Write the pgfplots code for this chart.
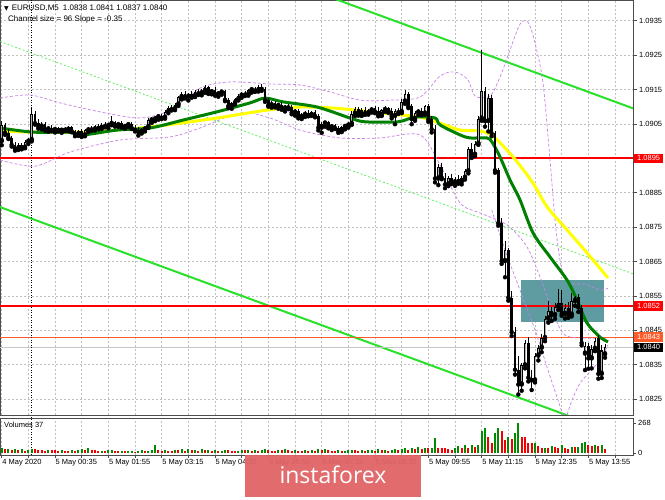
\documentclass[border=0pt]{standalone}
\usepackage{pgfplots}
\pgfplotsset{compat=1.18}
\usepackage{pgfplotstable}
\usepackage{fontspec}
\setmainfont{Liberation Sans}
\newfontfamily\dejavu{DejaVu Sans}
\newfontfamily\wmfont{Open Sans}
\definecolor{gridc}{RGB}{192,192,192}
\definecolor{maG}{RGB}{0,128,0}
\definecolor{maY}{RGB}{255,255,0}
\definecolor{chan}{RGB}{40,225,40}
\definecolor{chanmid}{RGB}{100,240,100}
\definecolor{band}{RGB}{200,130,230}
\definecolor{boxc}{RGB}{94,156,162}
\definecolor{volG}{RGB}{0,140,0}
\definecolor{volR}{RGB}{240,0,0}
\definecolor{ored}{RGB}{255,90,40}
\definecolor{wm}{RGB}{224,100,102}
\definecolor{bullc}{RGB}{175,175,175}
\newcommand{\sz}{\fontsize{7.5}{9}\selectfont}

\pgfplotstableread{
i o h l c
0 100.0 105.8 98.8 104.8
5 97.8 99.3 97.4 98.9
7 98.1 100.2 97.9 99.8
8 99.8 100.9 99.2 100.3
9 100.3 109.5 99.9 107.8
12 104.2 105.6 103.4 105.1
14 103.4 104.3 102.7 103.9
16 103.2 104.0 102.5 103.7
18 103.0 103.9 102.4 103.5
20 103.3 104.4 102.9 104.0
23 101.9 103.2 101.5 102.8
25 101.7 103.5 101.4 103.1
26 103.1 104.0 102.6 103.8
28 103.4 104.7 103.1 104.3
30 103.8 105.2 103.5 104.8
32 104.4 105.3 103.7 105.0
33 105.0 107.3 104.6 105.4
35 104.6 105.6 104.1 105.2
37 104.1 105.0 103.6 104.6
38 104.6 105.4 104.2 104.9
42 102.6 103.8 102.2 103.4
43 103.4 104.5 102.8 104.1
44 104.1 106.6 103.8 106.0
45 106.0 106.9 105.3 106.3
46 106.3 107.4 105.8 106.9
47 106.9 107.8 106.2 107.2
49 106.8 108.9 106.5 108.5
50 108.5 110.2 108.1 109.7
52 109.3 111.0 109.0 110.6
53 110.6 113.2 110.2 112.8
54 112.8 114.3 112.1 113.6
56 112.9 114.0 111.8 113.7
58 113.1 114.8 112.8 114.4
60 113.9 115.0 113.3 114.6
61 114.6 116.3 114.0 115.6
63 114.2 115.1 113.6 114.8
65 113.6 114.6 112.9 114.1
66 114.1 114.9 113.5 114.5
69 110.2 111.4 109.4 111.0
70 111.0 112.4 110.6 112.1
71 112.1 113.6 111.8 113.2
72 113.2 114.4 112.6 113.9
74 113.5 115.2 113.2 114.8
75 114.8 115.5 114.1 115.1
77 114.7 116.2 114.4 115.8
81 110.4 111.6 109.7 111.1
83 110.2 111.2 109.4 110.6
85 109.5 110.5 108.6 110.1
88 108.3 109.3 107.4 108.8
90 107.0 108.1 106.4 107.6
91 107.6 108.6 107.0 108.2
93 107.6 108.7 107.3 108.4
96 103.9 105.6 102.4 105.1
97 105.1 105.8 104.2 105.4
99 104.0 105.0 103.2 104.6
102 102.9 104.4 102.6 104.1
103 104.1 104.8 103.4 104.5
104 104.5 105.4 103.9 105.0
105 105.0 108.6 104.7 108.0
106 108.0 109.8 107.3 109.2
108 107.8 109.6 107.3 109.1
110 108.1 109.3 107.7 108.9
111 108.9 110.0 108.3 109.5
114 107.6 109.4 107.3 109.0
115 109.0 110.1 108.5 109.6
118 107.3 109.4 104.9 108.8
120 108.4 112.2 108.1 111.5
121 111.5 114.8 110.8 113.8
124 106.4 108.8 105.9 108.3
125 108.3 109.4 107.6 108.8
127 108.0 110.6 107.7 110.1
131 89.1 93.4 87.2 92.6
134 87.4 89.9 86.9 89.4
136 88.0 89.6 87.0 89.1
138 88.2 89.8 87.4 89.3
139 89.3 91.8 88.8 91.2
140 91.2 98.2 90.6 97.6
142 96.0 99.9 95.6 99.2
143 99.2 107.4 98.9 106.5
144 106.5 126.6 105.9 114.5
146 105.8 113.8 102.8 112.6
151 65.1 71.0 60.4 68.2
156 29.2 35.6 27.4 34.8
157 34.8 42.2 33.9 41.3
160 30.4 38.4 29.8 37.6
161 37.6 40.8 36.2 39.9
162 39.9 43.8 38.6 42.7
163 42.7 49.2 41.8 48.4
164 48.4 53.4 47.2 50.6
166 49.4 52.8 48.3 51.8
167 51.8 57.0 50.9 52.9
169 49.8 52.6 48.4 51.6
171 49.5 55.8 49.0 53.5
172 53.5 55.0 52.1 54.6
175 38.2 41.6 33.4 40.4
177 36.8 40.6 33.9 39.6
178 39.6 42.6 38.9 42.0
180 32.3 40.6 31.1 39.1
181 38.0 41.0 37.0 40.0
}\bull

\pgfplotstableread{
i o h l c
1 104.8 105.2 101.8 102.4
2 102.4 103.4 100.6 101.0
3 101.0 101.6 98.4 98.9
4 98.9 99.6 97.2 97.8
6 98.9 99.5 97.6 98.1
10 107.8 108.6 104.8 105.2
11 105.2 106.4 103.6 104.2
13 105.1 105.5 103.0 103.4
15 103.9 104.6 102.9 103.2
17 103.7 104.2 102.8 103.0
19 103.5 104.1 102.9 103.3
21 104.0 104.4 102.6 102.9
22 102.9 103.3 101.4 101.9
24 102.8 103.4 101.2 101.7
27 103.8 104.5 103.0 103.4
29 104.3 104.9 103.4 103.8
31 104.8 105.4 104.0 104.4
34 105.4 105.9 104.2 104.6
36 105.2 105.8 103.9 104.1
39 104.9 105.4 103.5 103.8
40 103.8 104.6 102.8 103.3
41 103.3 104.0 101.6 102.6
48 107.2 108.0 106.4 106.8
51 109.7 110.6 108.9 109.3
55 113.6 114.6 112.4 112.9
57 113.7 114.5 112.6 113.1
59 114.4 115.2 113.4 113.9
62 115.6 116.0 113.7 114.2
64 114.8 115.6 113.2 113.6
67 114.5 114.9 111.6 112.0
68 112.0 112.6 109.6 110.2
73 113.9 114.6 113.1 113.5
76 115.1 115.8 114.3 114.7
78 115.8 116.7 114.6 115.2
79 115.2 115.8 111.4 111.9
80 111.9 112.4 110.0 110.4
82 111.1 111.6 109.8 110.2
84 110.6 111.3 109.1 109.5
86 110.1 110.9 109.3 109.8
87 109.8 110.4 107.8 108.3
89 108.8 109.4 106.6 107.0
92 108.2 108.9 107.2 107.6
94 108.4 108.9 106.9 107.3
95 107.3 107.8 103.1 103.9
98 105.4 105.9 103.7 104.0
100 104.6 105.1 103.5 103.8
101 103.8 104.3 102.4 102.9
107 109.2 109.9 107.4 107.8
109 109.1 109.8 107.6 108.1
112 109.5 110.2 108.1 108.6
113 108.6 109.8 107.2 107.6
116 109.6 110.0 108.2 108.8
117 108.8 109.5 106.6 107.3
119 108.8 109.6 107.9 108.4
122 113.8 114.2 109.6 110.1
123 110.1 110.8 104.9 106.4
126 108.8 109.5 107.5 108.0
128 110.1 110.8 105.6 106.3
129 106.3 107.2 102.5 103.4
130 103.4 104.6 88.0 89.1
132 92.6 93.5 88.9 89.4
133 89.4 90.8 86.3 87.4
135 89.4 90.4 87.5 88.0
137 89.1 90.2 87.6 88.2
141 97.6 99.5 95.1 96.0
145 114.5 115.6 104.2 105.8
147 112.6 113.4 101.4 102.2
148 102.2 103.0 90.8 91.5
149 91.5 92.3 75.4 76.2
150 76.2 77.5 64.3 65.1
152 68.2 69.0 53.6 54.5
153 54.5 56.3 43.3 44.4
154 44.4 46.0 32.1 33.5
155 33.5 37.4 26.3 29.2
158 41.3 43.0 30.1 31.2
159 31.2 33.5 27.6 30.4
165 50.6 51.8 47.7 49.4
168 52.9 56.7 49.2 49.8
170 51.6 53.2 48.6 49.5
173 54.6 55.5 50.3 51.6
174 51.6 52.2 40.6 41.3
176 40.4 41.2 33.8 36.8
179 42.8 43.7 30.9 32.3
}\bear

\pgfplotstableread{
i v
0 44
2 40
4 32
6 36
8 28
9 40
14 30
18 28
21 24
23 28
24 40
26 44
30 22
32 24
33 28
36 20
38 16
39 20
41 18
42 24
44 20
45 24
46 68
49 24
52 28
54 36
56 32
58 28
60 36
62 28
64 24
66 22
67 28
71 22
72 28
74 30
76 24
78 28
79 32
83 28
85 32
88 26
91 24
93 28
95 36
97 32
101 24
103 22
104 26
105 28
108 30
110 24
111 28
113 32
115 26
117 28
118 36
120 40
121 48
123 44
125 52
127 48
129 48
130 130
136 43
137 63
139 73
141 69
143 70
144 200
145 224
148 176
149 222
152 145
154 181
155 268
160 92
163 46
165 66
168 69
171 55
173 54
174 93
175 95
178 69
180 73
}\volg

\pgfplotstableread{
i v
1 36
3 28
5 24
7 20
10 32
11 28
12 24
13 20
15 26
16 24
17 18
19 22
20 20
22 16
25 26
27 30
28 24
29 20
31 16
34 22
35 18
37 14
40 12
43 16
47 28
48 20
50 22
51 20
53 24
55 20
57 24
59 22
61 26
63 20
65 18
68 24
69 20
70 16
73 24
75 20
77 22
80 24
81 22
82 20
84 24
86 28
87 22
89 20
90 18
92 20
94 22
96 24
98 26
99 22
100 20
102 18
106 24
107 22
109 20
112 22
114 24
116 22
119 24
122 30
124 36
126 40
128 44
131 47
132 43
133 43
134 35
135 23
138 47
140 43
142 58
146 139
147 93
150 196
151 115
153 127
156 145
157 145
158 89
159 86
161 66
162 43
164 43
166 54
167 43
169 43
170 35
172 51
176 69
177 63
179 63
181 37
}\volr

\begin{document}
\begin{tikzpicture}[x=1pt,y=1pt]
\fill[white] (0,0) rectangle (665,499);

% ---------------- main price panel ----------------
\begin{axis}[
  at={(0pt,84pt)}, anchor=south west,
  width=633pt, height=415pt, scale only axis,
  xmin=-0.51, xmax=189.4, ymin=20.34, ymax=141.02,
  clip mode=individual,
  axis line style={black!70, line width=0.8pt},
  xtick={0,8,...,184}, xticklabels={}, xmajorticks=false,
  xmajorgrids, ymajorgrids,
  major grid style={gridc, dash pattern=on 2pt off 2pt, line width=0.6pt},
  ytick={25,35,...,135},
  yticklabels={1.0825,1.0835,1.0845,1.0855,1.0865,1.0875,1.0885,,1.0905,1.0915,1.0925,1.0935},
  ytick pos=right, yticklabel pos=right,
  tick align=outside, major tick length=4pt,
  major tick style={black!70, line width=0.6pt},
  yticklabel style={font=\sz, anchor=west, inner sep=0pt, xshift=2pt},
]
% teal zone
\addplot[fill=boxc, draw=none] coordinates {(155.8,47.4) (180.7,47.4) (180.7,59.6) (155.8,59.6)} --cycle;
% channel
\addplot[chan, line width=2pt] coordinates {(-0.51,177.1) (190,109.3)};
\addplot[chan, line width=2pt] coordinates {(-0.51,80.8) (190,13.0)};
\addplot[chanmid, line width=0.8pt, dash pattern=on 2pt off 2pt] coordinates {(-0.51,128.95) (190,61.2)};
% horizontal levels
\addplot[gray!45, line width=1.2pt] coordinates {(-0.51,40) (189.4,40)};
\addplot[ored, line width=0.8pt] coordinates {(-0.51,43) (189.4,43)};
\addplot[red, line width=2pt] coordinates {(-0.51,95) (189.4,95)};
\addplot[red, line width=2pt] coordinates {(-0.51,52) (189.4,52)};
% dotted day separator
\addplot[black, line width=0.8pt, dash pattern=on 1pt off 1.5pt] coordinates {(9,10) (9,150)};
% envelope bands
\addplot[band, line width=0.7pt, dash pattern=on 3pt off 2pt, smooth] coordinates {
(-0.5,112.5) (8.5,113.4) (17.5,111.1) (29.5,108.5) (41.5,106.7) (50.5,109.0) (59.5,115.4) (68.5,117.2)
(80.5,116.6) (89.5,116.3) (98.5,114.3) (107.5,111.9) (116.5,111.9) (125.5,112.8) (131.5,118.9) (136,120.1)
(139.9,117.8) (142,113.1) (146.5,113.1) (149.5,118.6) (152.5,126.5) (155.5,134.0) (157.9,134.6) (160,128.5)
(162.4,116.9) (164.5,94.5) (166.3,74.1) (168.1,62.5) (170.5,58.7) (175,58.4) (179.5,56.7) (181.9,57.2)};
\addplot[band, line width=0.7pt, dash pattern=on 3pt off 2pt, smooth] coordinates {
(-0.5,94.5) (10,92.7) (20.5,96.8) (35.5,100.3) (50.5,101.2) (59.5,103.8) (71.5,108.2) (80.5,106.7)
(89.5,103.2) (101.5,100.9) (113.5,100.9) (125.5,101.8) (131.5,93.1) (137.5,82.0) (143.5,79.1) (148.6,77.1)
(152.5,75.0) (157.6,69.2) (161.5,60.5) (165.4,50.0) (169,43.6) (175.6,42.7) (181.9,42.7)};
\addplot[band, line width=0.7pt, dash pattern=on 3pt off 2pt, smooth] coordinates {
(147,80) (151,68.3) (155.5,56.7) (160,45.1) (163.9,33.4) (166.9,24.7) (169,19.5) (171.1,24.7)
(173.5,29.6) (176.5,32.9) (179.5,36.3) (181.9,40.7)};
% moving averages
\addplot[maY, line width=3pt, smooth] coordinates {
(-0.5,102.9) (9.4,102.6) (24.4,102.6) (34.6,103.2) (44.5,104.1) (54.4,105.3) (64.6,106.7) (79.6,109.0)
(89.5,109.9) (99.4,109.6) (109,108.7) (119.5,107.6) (125.5,107.0) (133,104.7) (137.5,103.2) (143.5,102.9)
(147.4,101.4) (153.4,95.4) (159.4,87.8) (163.6,80.9) (169.6,74.2) (175.6,67.5) (181.9,60.2)};
\addplot[maG, line width=3pt, smooth] coordinates {
(-0.5,103.8) (9.4,102.6) (19.6,102.6) (24.4,101.8) (34.6,103.2) (44.5,103.8) (54.4,106.1) (64.6,108.5)
(74.5,111.1) (79.0,112.5) (84.4,111.4) (94.6,109.9) (104.5,106.7) (109,105.6) (118.9,105.6) (124,107.0)
(130,106.7) (131.5,104.7) (137.5,101.8) (140.5,100.9) (145.6,100.9) (147.1,99.7) (149.5,95.4) (152.5,88.7)
(155.5,82.9) (159.4,73.3) (164.5,66.3) (169.6,59.6) (172.6,53.8) (175.6,47.1) (179.5,43.0) (181.9,41.6)};
% candles: wicks
\addplot[only marks, mark=none, error bars/.cd, y dir=plus, y explicit, error mark=none,
  error bar style={black, line width=0.8pt}] table[x=i, y=l, y error expr=\thisrow{h}-\thisrow{l}] {\bull};
\addplot[only marks, mark=none, error bars/.cd, y dir=plus, y explicit, error mark=none,
  error bar style={black, line width=0.8pt}] table[x=i, y=l, y error expr=\thisrow{h}-\thisrow{l}] {\bear};
% bodies
\addplot[only marks, mark=none, error bars/.cd, y dir=plus, y explicit, error mark=none,
  error bar style={black, line width=2.6pt}] table[x=i, y=c, y error expr={max(\thisrow{o}-\thisrow{c},0.3)}] {\bear};
\addplot[only marks, mark=none, error bars/.cd, y dir=plus, y explicit, error mark=none,
  error bar style={black, line width=2.6pt}] table[x=i, y=o, y error expr={max(\thisrow{c}-\thisrow{o},0.3)}] {\bull};
\addplot[only marks, mark=none, error bars/.cd, y dir=plus, y explicit, error mark=none,
  error bar style={bullc, line width=0.9pt}] table[x=i, y expr=\thisrow{o}+0.3, y error expr={max(\thisrow{c}-\thisrow{o}-0.6,0)}] {\bull};
% anchors for the price boxes
\coordinate (p95) at (axis cs:189.4,95);
\coordinate (p52) at (axis cs:189.4,52);
\coordinate (p43) at (axis cs:189.4,43);
\coordinate (p40) at (axis cs:189.4,40);
\end{axis}

% price boxes on the right scale (drawn over the tick labels)
\tikzset{pbox/.style={text=white, font=\sz, anchor=west, inner sep=0pt, minimum width=29pt, minimum height=9.5pt, xshift=1pt}}
\node[pbox, fill=red] at (p95) {1.0895};
\node[pbox, fill=red] at (p52) {1.0852};
\node[pbox, fill=ored] at (p43) {1.0843};
\node[pbox, fill=black] at (p40) {1.0840};

% ---------------- volume panel ----------------
\begin{axis}[
  at={(0pt,44pt)}, anchor=south west,
  width=633pt, height=37pt, scale only axis,
  xmin=-0.51, xmax=189.4, ymin=-17.9, ymax=312.7,
  clip mode=individual,
  axis line style={black!70, line width=0.8pt},
  xtick={0,8,...,184},
  xticklabels={4 May 2020,,5 May 00:35,,5 May 01:55,,5 May 03:15,,5 May 04:35,,5 May 05:55,,5 May 07:15,,5 May 08:35,,5 May 09:55,,5 May 11:15,,5 May 12:35,,5 May 13:55,},
  xtick pos=left, xmajorgrids,
  major grid style={gridc, dash pattern=on 2pt off 2pt, line width=0.6pt},
  ytick={0,268}, yticklabels={0,268},
  ytick pos=right, yticklabel pos=right,
  tick align=outside, major tick length=3pt,
  major tick style={black!70, line width=0.6pt},
  yticklabel style={font=\sz, anchor=west, inner sep=0pt, xshift=2pt},
  xticklabel style={font=\sz, anchor=north west, inner sep=0pt, xshift=0.5pt, yshift=-1pt},
]
\addplot[black, line width=0.8pt, dash pattern=on 1pt off 1.5pt] coordinates {(9,-20) (9,320)};
\addplot[ycomb, volG, line width=2pt, mark=none] table[x=i, y=v] {\volg};
\addplot[ycomb, volR, line width=2pt, mark=none] table[x=i, y=v] {\volr};
\node[font=\sz, anchor=north west, inner sep=0pt] at (rel axis cs:0,1) [xshift=4pt, yshift=-4pt] {Volumes 37};
\end{axis}

% header texts
\node[anchor=west, font=\fontsize{8}{9.5}\selectfont, inner sep=0pt] at (4,491) {{\dejavu\fontsize{6}{7}\selectfont ▼}\hspace{3pt}EURUSD,M5\hspace{4pt}1.0838 1.0841 1.0837 1.0840};
\node[anchor=west, font=\fontsize{8}{9.5}\selectfont, inner sep=0pt] at (8,480) {Channel size = 96 Slope = -0.35};

% watermark
\fill[wm, opacity=0.95] (245,2) rectangle (421,44);
\node[text=white, font=\wmfont\fontsize{23}{28}\selectfont, inner sep=0pt] at (333,24) {instaforex};

\pgfresetboundingbox
\path[use as bounding box] (0,0) rectangle (665,499);
\end{tikzpicture}
\end{document}
